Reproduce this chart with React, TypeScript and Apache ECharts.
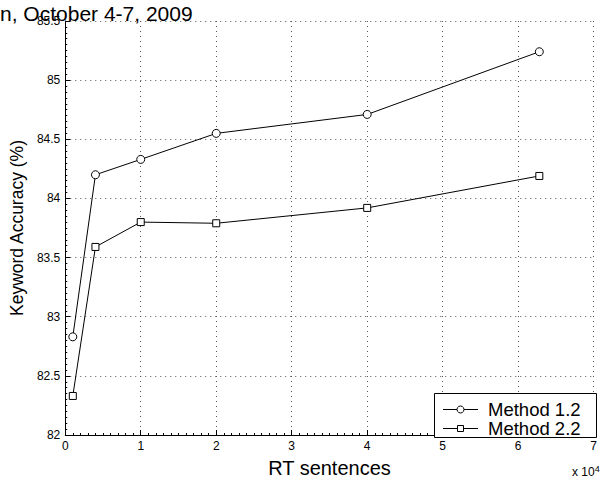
import React, { useEffect, useRef } from "react";
import * as echarts from "echarts";

const xValues = [0.1, 0.4, 1, 2, 4, 6.28];
const method12 = [82.83, 84.2, 84.33, 84.55, 84.71, 85.24];
const method22 = [82.33, 83.59, 83.8, 83.79, 83.92, 84.19];
const seriesNames = ["Method 1.2", "Method 2.2"];
const titleText = "n, October 4-7, 2009";
const xName = "RT sentences";
const yName = "Keyword Accuracy (%)";

const FONT = "'Liberation Sans', Arial, Helvetica, sans-serif";

export default function App() {
  const ref = useRef<HTMLDivElement>(null);
  useEffect(() => {
    if (!ref.current) return;
    const chart = echarts.init(ref.current, null, { renderer: "svg" });
    const axisCommon = {
      axisLine: { show: true, lineStyle: { color: "#000", width: 1 } },
      axisTick: { show: true, inside: true, length: 5, lineStyle: { color: "#000" } },
      minorTick: { show: true, splitNumber: 10, length: 2, lineStyle: { color: "#000" } },
      splitLine: { show: true, lineStyle: { color: "#555", type: [1, 4], width: 1 } },
      axisLabel: { color: "#000", fontSize: 12, fontFamily: FONT },
      nameTextStyle: { color: "#000", fontSize: 20, fontFamily: FONT },
    };
    const mk = (arr: number[]) => xValues.map((x, i) => [x, arr[i]]);

    // legend drawn as graphic (box, sample lines, markers, labels)
    const lgX = 434.5;
    const lgY = 393.5;
    const rowY = [409.5, 428];
    const legendEls: any[] = [
      {
        type: "rect",
        shape: { x: lgX, y: lgY, width: 162, height: 44 },
        style: { fill: "#fff", stroke: "#000", lineWidth: 1 },
        z: 50,
      },
    ];
    seriesNames.forEach((name, i) => {
      const ly = Math.floor(rowY[i]) + 0.5;
      legendEls.push({
        type: "line",
        shape: { x1: 443, y1: ly, x2: 478, y2: ly },
        style: { stroke: "#000", lineWidth: 1 },
        z: 51,
      });
      if (i === 0) {
        legendEls.push({
          type: "circle",
          shape: { cx: 460.5, cy: ly, r: 3.5 },
          style: { fill: "#fff", stroke: "#000", lineWidth: 1 },
          z: 52,
        });
      } else {
        legendEls.push({
          type: "rect",
          shape: { x: 457.5, y: ly - 3, width: 6, height: 6 },
          style: { fill: "#fff", stroke: "#000", lineWidth: 1 },
          z: 52,
        });
      }
      legendEls.push({
        type: "text",
        x: 488,
        y: rowY[i],
        style: {
          text: name,
          fill: "#000",
          font: `18.5px ${FONT}`,
          verticalAlign: "middle",
          align: "left",
        },
        z: 52,
      });
    });

    chart.setOption({
      animation: false,
      backgroundColor: "#fff",
      textStyle: { fontFamily: FONT },
      grid: { left: 62, right: 1, top: 21, bottom: 36, containLabel: false },
      xAxis: {
        type: "value",
        min: 0,
        max: 7,
        interval: 1,
        name: xName,
        nameLocation: "middle",
        nameGap: 23,
        ...axisCommon,
        axisLabel: { ...axisCommon.axisLabel, margin: 5 },
      },
      yAxis: {
        type: "value",
        min: 82,
        max: 85.5,
        interval: 0.5,
        name: yName,
        nameLocation: "middle",
        nameGap: 36,
        nameRotate: 90,
        ...axisCommon,
        axisLabel: { ...axisCommon.axisLabel, margin: 5 },
        nameTextStyle: { ...axisCommon.nameTextStyle, fontSize: 17.5 },
      },
      graphic: [
        {
          type: "text",
          left: 0,
          top: 3,
          style: { text: titleText, fill: "#000", font: `21px ${FONT}` },
          z: 100,
        },
        {
          type: "text",
          left: 572,
          top: 464,
          style: {
            text: "x 10{s|4}",
            fill: "#000",
            font: `12px ${FONT}`,
            rich: { s: { fontSize: 9, verticalAlign: "top", padding: [0, 0, 7, 0] } },
          },
        },
        ...legendEls,
      ],
      series: [
        {
          name: seriesNames[0],
          type: "line",
          data: mk(method12),
          symbol: "circle",
          symbolSize: 8,
          showAllSymbol: true,
          lineStyle: { color: "#000", width: 1 },
          itemStyle: { color: "#fff", borderColor: "#000", borderWidth: 1 },
        },
        {
          name: seriesNames[1],
          type: "line",
          data: mk(method22),
          symbol: "rect",
          symbolSize: 7,
          showAllSymbol: true,
          lineStyle: { color: "#000", width: 1 },
          itemStyle: { color: "#fff", borderColor: "#000", borderWidth: 1 },
        },
      ],
    });
    return () => chart.dispose();
  }, []);
  return (
    <div
      ref={ref}
      style={{ position: "fixed", left: 0, top: 0, width: 600, height: 483, background: "#fff" }}
    />
  );
}
